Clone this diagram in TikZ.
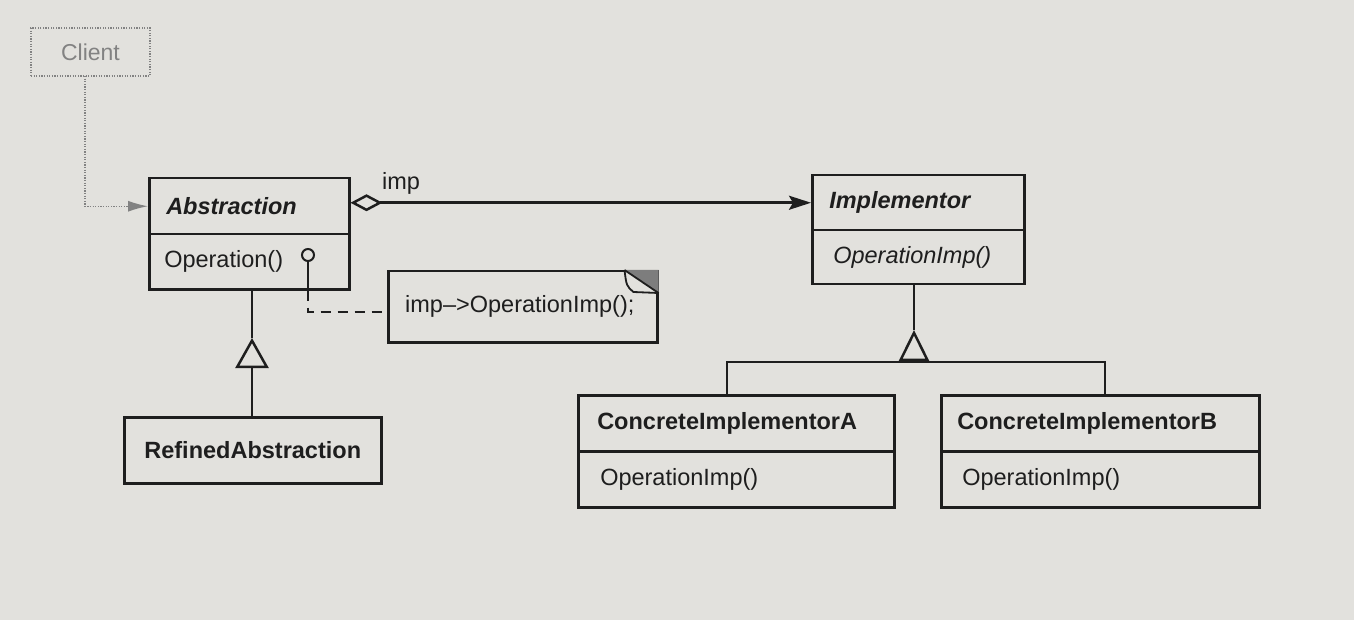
\documentclass[tikz,border=0pt]{standalone}
\usepackage{fontspec}
\setmainfont{Liberation Sans}
\usetikzlibrary{arrows.meta}
\definecolor{paper}{RGB}{226,225,221}
\definecolor{ink}{RGB}{30,30,30}
\definecolor{faint}{RGB}{130,130,130}
\definecolor{foldgrey}{RGB}{125,125,125}
\tikzset{
  comp/.style={draw=ink, line width=2.5pt, anchor=north west, inner ysep=0pt,
    align=left, text=ink, font=\fontsize{23.5}{26}\selectfont},
  plain/.style={draw=ink, line width=2.5pt, anchor=north west, inner sep=0pt},
  lbl/.style={text=ink, inner sep=0pt, font=\fontsize{23.5}{26}\selectfont},
  link/.style={draw=ink, line width=2.5pt},
  dotline/.style={draw=faint, line width=1.4pt, dash pattern=on 1.2pt off 1.4pt},
  notedash/.style={draw=ink, line width=2.5pt, dash pattern=on 10pt off 7pt},
}
\begin{document}
\begin{tikzpicture}[x=1pt,y=-1pt]
\fill[paper] (0,0) rectangle (1354,620);
\useasboundingbox (0,0) rectangle (1354,620);

% Client
\node[dotline, minimum width=119pt, minimum height=48pt, inner sep=0pt,
  text=faint, font=\fontsize{23}{26}\selectfont] (client) at (90.5,52) {Client};

% Abstraction
\node[comp, inner xsep=17pt, text width=166pt, minimum height=56pt] (absN) at (148,177)
  {\bfseries\itshape Abstraction};
\node[comp, inner xsep=15pt, text width=170pt, minimum height=55pt] (absO) at (148,233)
  {Operation()};

% Implementor
\node[comp, inner xsep=17pt, text width=178pt, minimum height=55pt] (implN) at (811,174)
  {\bfseries\itshape Implementor};
\node[comp, inner xsep=21pt, text width=170pt, minimum height=54pt] (implO) at (811,229)
  {\itshape OperationImp()};

% Concrete implementors
\node[comp, inner xsep=19pt, text width=278pt, minimum height=56pt] (cAN) at (577,394)
  {\bfseries ConcreteImplementorA};
\node[comp, inner xsep=22pt, text width=272pt, minimum height=56pt] (cAO) at (577,450)
  {OperationImp()};
\node[comp, inner xsep=16pt, text width=286pt, minimum height=56pt] (cBN) at (940,394)
  {\bfseries ConcreteImplementorB};
\node[comp, inner xsep=21pt, text width=276pt, minimum height=56pt] (cBO) at (940,450)
  {OperationImp()};

% Refined abstraction
\node[comp, align=center, inner xsep=0pt, text width=257pt, minimum height=66pt] (refined) at (123,416)
  {\bfseries RefinedAbstraction};

% Note
\node[plain, minimum width=269pt, minimum height=71pt] (note) at (387,270) {};
\node[lbl, anchor=west] (notetxt) at (405,306) {imp–>OperationImp();};
\fill[foldgrey] ([xshift=-34pt]note.north east) -- (note.north east)
  -- ([yshift=-23pt]note.north east) -- cycle;
\draw[link, line width=1.8pt] ([xshift=-34pt]note.north east) -- ([yshift=-23pt]note.north east);
\draw[link, line width=1.8pt] ([xshift=-34pt]note.north east)
  .. controls ([xshift=-32pt,yshift=-16pt]note.north east) .. ([xshift=-25pt,yshift=-22pt]note.north east)
  -- ([yshift=-23pt]note.north east);

% Client dependency
\coordinate (cl) at (85,76);
\draw[dotline, -{Latex[length=20pt,width=11pt,fill=faint]}] (cl) |- (absN.west);

% imp aggregation
\draw[link, {Diamond[open,length=32pt,width=17pt]}-{Stealth[length=22pt,width=14pt,inset=4pt]}]
  (absN.east |- implN.west) -- (implN.west);
\node[lbl, anchor=west] (implbl) at (382,183) {imp};

% lollipop and note link
\node[circle, draw=ink, line width=2pt, minimum size=12pt, inner sep=0pt] (lolli) at (308,255) {};
\coordinate (dj) at (308,312);
\draw[link] (lolli.south) -- (lolli.south |- absO.south);
\draw[notedash] (lolli.south |- absO.south) -- (dj) -- (dj -| note.west);

% generalization Abstraction <- RefinedAbstraction
\coordinate (g1) at (252,338);
\draw[link] (g1 |- absO.south) -- (g1);
\draw[link, -{Triangle[open,length=30pt,width=33pt]}] (g1 |- refined.north) -- (g1);

% generalization Implementor <- concrete implementors
\coordinate (g2) at (914,330);
\coordinate (bar) at (914,362);
\coordinate (ja) at (727,362);
\coordinate (jb) at (1105,362);
\draw[link] (g2 |- implO.south) -- (g2);
\draw[link, -{Triangle[open,length=31pt,width=30pt]}] (bar) -- (g2);
\draw[link] (ja |- cAN.north) -- (ja) -- (jb) -- (jb |- cBN.north);
\end{tikzpicture}
\end{document}
